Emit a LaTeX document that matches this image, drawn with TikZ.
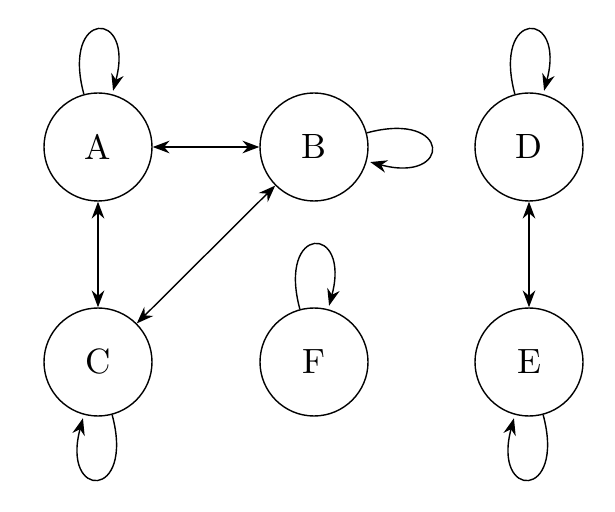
\documentclass[tikz,border=0pt]{standalone}
\usetikzlibrary{arrows.meta}
\begin{document}
\begin{tikzpicture}[
  state/.style={circle,draw,minimum size=1.08cm,inner sep=0pt},
  link/.style={{Stealth}-{Stealth}},
  self/.style={-{Stealth}},
  >={Stealth}
]
\useasboundingbox (0,0) rectangle (6.15,5.11);
\node[state] (A) at (0.98,3.64) {A};
\node[state] (B) at (3.14,3.64) {B};
\node[state] (D) at (5.29,3.64) {D};
\node[state] (C) at (0.98,1.49) {C};
\node[state] (F) at (3.14,1.49) {F};
\node[state] (E) at (5.29,1.49) {E};
\draw[link] (A) -- (B);
\draw[link] (A) -- (C);
\draw[link] (B) -- (C);
\draw[link] (D) -- (E);
\draw[self] (A) edge[loop above] (A);
\draw[self] (B) edge[loop right] (B);
\draw[self] (D) edge[loop above] (D);
\draw[self] (F) edge[loop above] (F);
\draw[self] (C) edge[loop below] (C);
\draw[self] (E) edge[loop below] (E);
\end{tikzpicture}
\end{document}
